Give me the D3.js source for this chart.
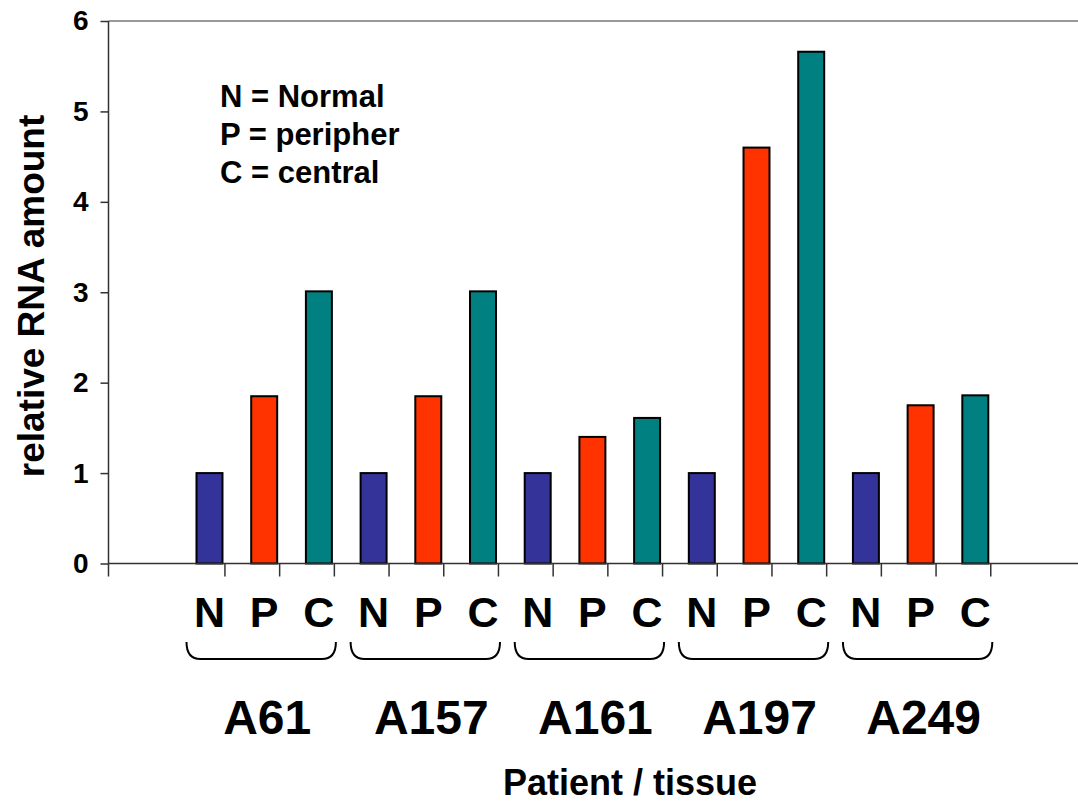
<!DOCTYPE html>
<html>
<head>
<meta charset="utf-8">
<script src="https://cdn.jsdelivr.net/npm/d3@7"></script>
<style>
  html, body { margin: 0; padding: 0; background: #fff; }
  svg { display: block; font-family: "Liberation Sans", Arial, sans-serif; font-weight: bold; }
</style>
</head>
<body>
<svg id="chart" width="1078" height="803"></svg>
<script>
// ---- data ----
const groups = ["A61", "A157", "A161", "A197", "A249"];
const tissues = ["N", "P", "C"];
const valuesN = [1.00, 1.00, 1.00, 1.00, 1.00];
const valuesP = [1.85, 1.85, 1.40, 4.60, 1.75];
const valuesC = [3.01, 3.01, 1.61, 5.66, 1.86];
const yTicks = [0, 1, 2, 3, 4, 5, 6];
const legendLines = ["N = Normal", "P = peripher", "C = central"];
const xTitle = "Patient / tissue";
const yTitle = "relative RNA amount";

// ---- build ----
const seriesVals = { N: valuesN, P: valuesP, C: valuesC };
const colors = { N: "#333399", P: "#FF3300", C: "#008080" };
const bars = [];
groups.forEach((g, gi) => tissues.forEach(t => bars.push({ key: g + "-" + t, group: g, tissue: t, value: seriesVals[t][gi] })));

const svg = d3.select("#chart");
const axisX0 = 108.5, axisX1 = 1078;
const x = d3.scaleBand().domain(bars.map(d => d.key)).range([196.5, 988.3]).paddingInner(0.525).paddingOuter(0);
const y = d3.scaleLinear().domain([0, 6]).range([563.5, 21]);
const y0 = y(0);

// top border
svg.append("line").attr("x1", axisX0).attr("x2", axisX1).attr("y1", y(6)).attr("y2", y(6))
  .attr("stroke", "#999").attr("stroke-width", 2);

// bars
svg.selectAll("rect.bar").data(bars).join("rect").attr("class", "bar")
  .attr("x", d => x(d.key)).attr("width", x.bandwidth())
  .attr("y", d => y(d.value)).attr("height", d => y0 - y(d.value))
  .attr("fill", d => colors[d.tissue]).attr("stroke", "#000").attr("stroke-width", 2);

// y axis
const yAxis = svg.append("g").attr("transform", `translate(${axisX0},0)`)
  .call(d3.axisLeft(y).tickValues(yTicks).tickSize(8).tickPadding(12).tickFormat(d3.format("d")));
yAxis.select(".domain").remove();
yAxis.selectAll(".tick line").attr("stroke", "#333").attr("stroke-width", 1.5);
yAxis.selectAll(".tick text").attr("font-size", 28).attr("font-weight", "bold")
  .attr("font-family", "Liberation Sans, Arial, sans-serif").attr("fill", "#000");
svg.append("line").attr("x1", axisX0).attr("x2", axisX0).attr("y1", y(6)).attr("y2", y0 + 13)
  .attr("stroke", "#333").attr("stroke-width", 1.5);

// x axis line & ticks
svg.append("line").attr("x1", axisX0).attr("x2", axisX1).attr("y1", y0).attr("y2", y0)
  .attr("stroke", "#333").attr("stroke-width", 1.5);
svg.selectAll("line.xtick").data(bars).join("line").attr("class", "xtick")
  .attr("x1", d => x(d.key) + x.step() * 0.52).attr("x2", d => x(d.key) + x.step() * 0.52)
  .attr("y1", y0).attr("y2", y0 + 13).attr("stroke", "#333").attr("stroke-width", 1.5);

// tissue labels
svg.selectAll("text.tis").data(bars).join("text").attr("class", "tis")
  .attr("x", d => x(d.key) + x.bandwidth() / 2).attr("y", 627)
  .attr("text-anchor", "middle").attr("font-size", 43).text(d => d.tissue);

// braces and group labels
groups.forEach(g => {
  const l = x(g + "-N") - 10, r = x(g + "-C") + x.bandwidth() + 4;
  const top = 642, bot = 659, rad = 14;
  svg.append("path")
    .attr("d", `M${l},${top} Q${l},${bot} ${l + rad},${bot} L${r - rad},${bot} Q${r},${bot} ${r},${top}`)
    .attr("fill", "none").attr("stroke", "#000").attr("stroke-width", 2);
  svg.append("text").attr("x", (x(g + "-N") + x(g + "-C") + x.bandwidth()) / 2 + 3).attr("y", 734)
    .attr("text-anchor", "middle").attr("font-size", 48).text(g);
});

// titles
svg.append("text").attr("x", 630).attr("y", 795).attr("text-anchor", "middle").attr("font-size", 36).text(xTitle);
svg.append("text").attr("transform", "translate(44,296) rotate(-90)").attr("text-anchor", "middle")
  .attr("font-size", 37).text(yTitle);

// legend text
svg.selectAll("text.leg").data(legendLines).join("text").attr("class", "leg")
  .attr("x", 220).attr("y", (d, i) => 107 + i * 38).attr("font-size", 31).text(d => d);
</script>
</body>
</html>
